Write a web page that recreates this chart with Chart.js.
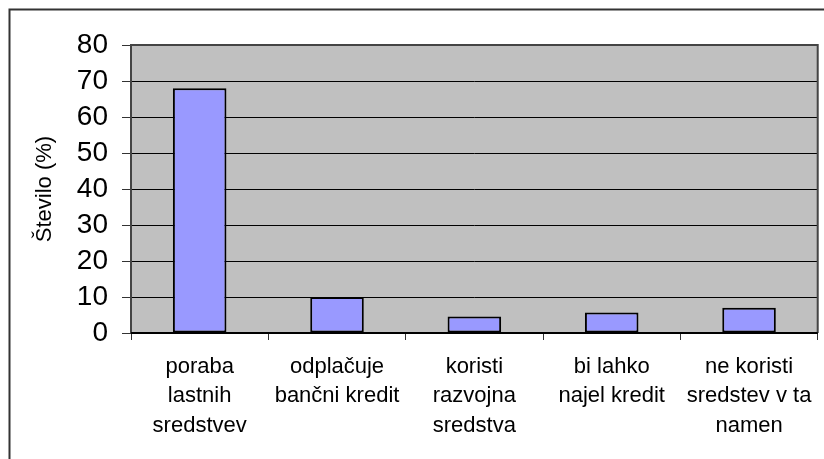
<!DOCTYPE html>
<html lang="sl">
<head>
  <meta charset="UTF-8" />
  <title>Število (%)</title>
  <script src="https://cdn.jsdelivr.net/npm/chart.js"></script>
  <style>
    body { margin: 0; background: #fff; }
    canvas { display: block; }
  </style>
</head>
<body>
  <canvas id="chart" width="824" height="459"></canvas>
  <script>
    const categories = [
      ['poraba', 'lastnih', 'sredstvev'],
      ['odplačuje', 'bančni kredit'],
      ['koristi', 'razvojna', 'sredstva'],
      ['bi lahko', 'najel kredit'],
      ['ne koristi', 'sredstev v ta', 'namen']
    ];
    const values = [68, 10, 4.6, 5.7, 7];
    const yTicks = { min: 0, max: 80, step: 10 };
    const yTitle = 'Število (%)';

    const fontFamily = '"Liberation Sans", Arial, sans-serif';

    // gray plot area, its border and the outer chart frame
    const frame = {
      id: 'frame',
      beforeDraw(chart) {
        const { ctx, chartArea: a } = chart;
        ctx.save();
        ctx.fillStyle = '#c0c0c0';
        ctx.fillRect(a.left, a.top, a.right - a.left, a.bottom - a.top);
        ctx.strokeStyle = '#333';
        ctx.lineWidth = 2;
        ctx.strokeRect(9.5, 9.5, 2000, 2000);
        ctx.restore();
      },
      afterDraw(chart) {
        const { ctx, chartArea: a } = chart;
        ctx.save();
        ctx.strokeStyle = '#444';
        ctx.lineWidth = 2;
        ctx.beginPath();
        ctx.moveTo(a.left, a.bottom);
        ctx.lineTo(a.left, a.top);
        ctx.lineTo(a.right, a.top);
        ctx.lineTo(a.right, a.bottom);
        ctx.stroke();
        ctx.strokeStyle = '#000';
        ctx.beginPath();
        ctx.moveTo(a.left, a.bottom);
        ctx.lineTo(a.right, a.bottom);
        ctx.stroke();
        ctx.restore();
      }
    };

    new Chart(document.getElementById('chart'), {
      type: 'bar',
      data: {
        labels: categories,
        datasets: [{
          data: values,
          backgroundColor: '#9999ff',
          borderColor: '#000',
          borderWidth: 2,
          borderSkipped: false,
          categoryPercentage: 1,
          barPercentage: 0.39
        }]
      },
      options: {
        responsive: false,
        animation: false,
        layout: { padding: { left: 0, top: 45, right: 6, bottom: 0 } },
        plugins: { legend: { display: false }, tooltip: { enabled: false } },
        scales: {
          x: {
            afterFit: (s) => { s.height = 126; },
            grid: {
              display: true,
              drawOnChartArea: false,
              offset: true,
              tickLength: 7,
              color: '#000',
              tickColor: '#333'
            },
            border: { display: false },
            ticks: {
              color: '#000',
              padding: 12,
              maxRotation: 0,
              autoSkip: false,
              font: { family: fontFamily, size: 22, lineHeight: 1.34 }
            }
          },
          y: {
            min: yTicks.min,
            max: yTicks.max,
            afterFit: (s) => { s.width = 131; },
            grid: { color: '#000', lineWidth: 1, tickLength: 9, tickColor: '#333' },
            border: { display: false },
            ticks: {
              stepSize: yTicks.step,
              autoSkip: false,
              color: '#000',
              padding: 14,
              font: { family: fontFamily, size: 28, lineHeight: 1 }
            },
            title: {
              display: true,
              text: yTitle,
              color: '#000',
              padding: { top: 32, bottom: 0 },
              font: { family: fontFamily, size: 22 }
            }
          }
        }
      },
      plugins: [frame]
    });
  </script>
</body>
</html>
